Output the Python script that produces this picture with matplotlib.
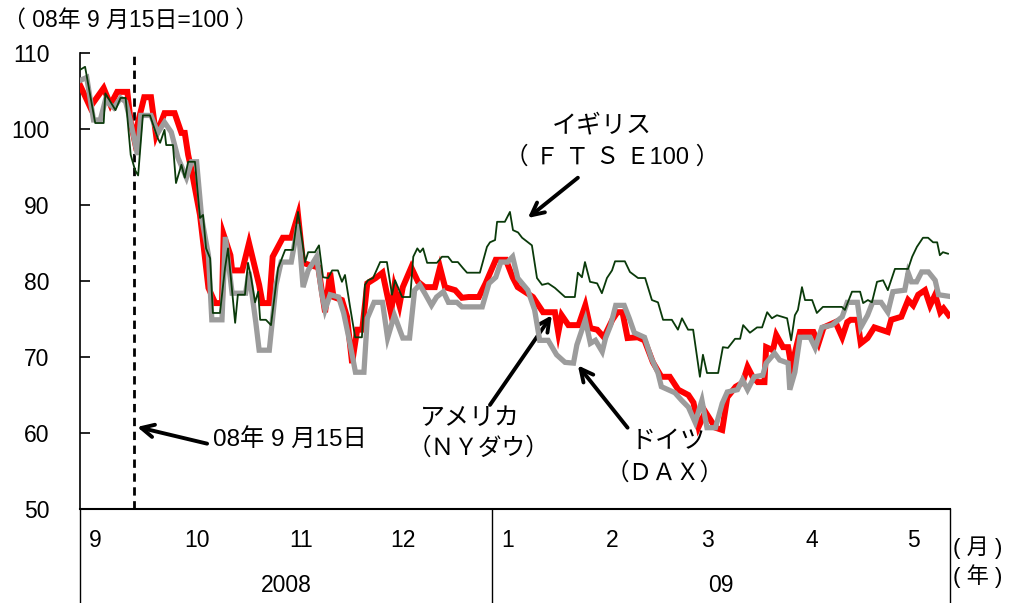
import matplotlib
matplotlib.use("Agg")
import matplotlib.pyplot as plt
import matplotlib.transforms as mtransforms

plt.rcParams['font.family'] = ['Liberation Sans', 'Noto Sans CJK JP', 'DejaVu Sans']

# x = days since 2008-09-01, y = index (2008-09-15 = 100)
us_day = [0, 3, 7, 9, 11, 14, 15, 16, 19, 21, 22.5, 25, 28, 30, 31, 32, 33, 35.5, 38, 40, 42, 42.5,
          44.5, 45, 48, 50, 53, 54, 56, 57, 60, 62.5, 64.5, 66, 68, 70.5, 72.5, 74, 75, 77.5, 79,
          80.5, 82, 83.5, 85, 87.5, 89.5, 92, 93, 94.5, 95.5, 98, 100, 102, 105, 106.5, 108, 111,
          113, 115, 118, 120, 123, 126, 128, 129.5, 134, 137, 140.5, 141.5, 142.5, 144.5, 147.5,
          149.5, 151, 153, 155, 157.5, 159, 160.5, 162, 165, 167, 169.5, 172, 174.5, 177, 180,
          181.5, 183, 185, 188, 190, 191.5, 194, 196, 197.5, 199, 200.5, 202.5, 203, 205, 206,
          208, 209.5, 210.5, 213, 217, 218.5, 220, 223.5, 225.5, 227, 228, 230, 231, 233, 235,
          239, 240, 243, 245, 246.5, 248, 250, 251.5, 253, 254.5, 255.5, 257]
us_val = [105.8, 102.9, 105.4, 103.2, 104.9, 104.9, 100.9, 98.8, 104.2, 104.2, 99.2, 102.1, 102.1,
          99.5, 99.5, 96.6, 94.6, 88.7, 79.1, 77.1, 77.1, 86.1, 83.4, 81.4, 81.4, 85.0, 79.5, 77.1,
          77.1, 83.2, 85.7, 85.7, 88.7, 82.4, 82.1, 81.8, 75.9, 81.1, 77.9, 77.5, 75.3, 69.2, 73.6,
          73.6, 79.7, 80.4, 81.1, 75.8, 79.2, 76.8, 79.2, 81.8, 79.9, 79.2, 79.2, 81.8, 79.2, 78.8,
          77.8, 77.9, 77.9, 79.7, 82.8, 82.8, 80.5, 79.2, 77.9, 75.9, 75.9, 73.2, 75.5, 74.2, 74.2,
          76.8, 73.8, 73.6, 72.6, 74.9, 75.9, 75.9, 72.5, 72.6, 72.2, 69.3, 67.4, 67.4, 65.7, 65.0,
          64.0, 60.8, 62.8, 60.7, 60.4, 64.7, 66.1, 66.6, 68.7, 67.4, 66.7, 66.7, 71.3, 70.9, 72.9,
          71.3, 71.3, 68.7, 73.3, 73.3, 71.8, 73.9, 74.6, 72.6, 74.6, 74.9, 74.9, 71.8, 72.5, 73.9,
          73.3, 74.9, 75.3, 77.5, 76.8, 78.2, 78.8, 76.8, 78.2, 75.9, 76.4, 75.5]

de_day = [0, 2, 4, 6, 7.5, 10, 12, 13.5, 15, 17, 18, 21, 23, 25, 27, 29, 31.5, 33, 34.5, 36, 38,
          39, 42, 43, 45, 49, 50, 52, 53, 56, 58, 59.5, 62.5, 64.5, 66, 67.5, 70, 71.5, 72.5, 74,
          76.5, 78, 79.5, 81.5, 84, 85, 87, 89.5, 91, 93, 95.5, 97.5, 99, 100.5, 102, 104, 105.5,
          107.5, 109, 111.5, 113, 119, 121, 123, 124.5, 126.5, 128, 129.5, 132.5, 134.5, 136,
          138.5, 141, 143.5, 146, 147, 149.5, 151, 152.5, 154.5, 155.5, 157, 158.5, 161, 162.5,
          164, 167, 169, 171, 172, 174, 176, 178, 180, 182, 184, 185.5, 188, 190, 191.5, 194.5,
          196, 197.5, 199.5, 202, 203, 205.5, 207, 209.5, 210, 211.5, 213, 216, 217.5, 219.5,
          222.5, 225.5, 227, 230, 231, 233, 234.5, 237, 239, 240.5, 244, 245, 246, 247.5, 249,
          251, 253, 254, 257]
de_val = [106.4, 106.8, 101.2, 101.2, 103.8, 102.8, 104.1, 103.6, 100.9, 96.6, 101.8, 101.8, 99.5,
          100.9, 99.6, 96.2, 93.6, 95.7, 95.7, 88.3, 83.4, 74.9, 74.9, 85.8, 78.4, 78.4, 81.2,
          74.6, 70.9, 70.9, 79.5, 82.5, 82.5, 87.5, 79.2, 81.4, 83.2, 78.4, 76.2, 78.2, 77.9, 75.8,
          72.6, 68.0, 68.0, 75.1, 77.2, 77.2, 72.5, 75.5, 72.5, 72.5, 78.8, 79.5, 78.4, 76.8, 77.9,
          78.6, 77.2, 77.2, 76.6, 76.6, 79.7, 80.5, 82.5, 82.5, 83.2, 80.4, 78.8, 76.2, 72.2, 72.2,
          70.3, 69.3, 69.2, 71.6, 74.9, 71.8, 72.2, 70.7, 72.5, 74.2, 76.8, 76.8, 75.1, 73.2, 72.6,
          69.9, 67.9, 66.1, 65.7, 65.3, 64.3, 63.4, 61.4, 64.3, 60.7, 60.7, 63.9, 65.4, 65.7, 67.0,
          65.7, 67.4, 67.6, 69.2, 70.5, 69.6, 69.2, 65.7, 68.0, 72.6, 72.6, 71.2, 73.9, 74.2, 75.3,
          77.2, 77.2, 73.9, 75.5, 77.2, 77.2, 75.9, 78.6, 78.8, 81.1, 79.9, 79.9, 81.2, 81.2, 80.1,
          78.2, 78.0]

uk_day = [0, 1.5, 4.5, 7, 7.5, 10.5, 12, 13.5, 15, 16.3, 17.2, 18.6, 20.7, 23, 23.7, 25, 25.5,
          27.5, 28.4, 30, 31, 32, 34, 35.5, 36.4, 37.3, 38.5, 39.3, 41.4, 42.9, 43.8, 45.9, 46.7,
          48.8, 49.7, 50.6, 51.8, 52.7, 53.3, 55, 56.5, 58.6, 60.7, 63, 64.5, 65.7, 66.6, 67.5,
          69.5, 70.7, 71.9, 73.4, 74.6, 76.3, 77.5, 78.4, 79.9, 81.4, 83.4, 84.3, 85.2, 86.7, 88.8,
          90.8, 92.3, 93.2, 95.3, 97.7, 98.6, 99.8, 100.6, 101.5, 102.7, 105.6, 107.1, 108.9,
          110.1, 111.8, 113.3, 114.5, 118.3, 120.4, 121.3, 122.8, 123.4, 125.7, 127.2, 128.1,
          129.6, 130.8, 133.7, 135.2, 136.7, 138.5, 140.5, 143.5, 146.4, 147.3, 148.5, 149.4,
          150.9, 153, 154.4, 155.9, 157.4, 158.3, 161.2, 162.7, 165.1, 167.2, 169.2, 171, 172.5,
          175.1, 176.9, 178.1, 179.9, 181.4, 183.4, 184.3, 185.5, 188.8, 190.2, 191.7, 193.8,
          195.3, 196.2, 198.2, 200.3, 201.8, 203.3, 204.7, 206.2, 209.2, 210.4, 211.5, 212.4,
          213.6, 214.5, 216.6, 218, 219.8, 225.4, 226.3, 228.4, 230.8, 231.7, 233.1, 234.3, 235.8,
          237.6, 239, 241.1, 245, 246.2, 247.6, 249.4, 250.9, 252.4, 253.6, 254.4, 255.3, 256.8]
uk_val = [107.8, 108.2, 100.8, 100.8, 104.7, 102.5, 104.1, 104.1, 96.6, 94.6, 93.9, 101.8, 101.8,
          98.8, 98.2, 99.9, 97.9, 97.9, 92.9, 95.3, 93.6, 95.7, 95.7, 88.3, 88.7, 84.3, 83.0, 75.8,
          75.8, 81.7, 84.3, 74.5, 78.2, 78.2, 82.4, 80.5, 77.2, 78.6, 74.9, 74.9, 74.2, 81.7, 84.1,
          84.1, 89.1, 85.4, 82.5, 83.8, 83.8, 84.7, 80.5, 80.4, 81.4, 81.4, 79.9, 80.8, 76.6, 72.6,
          72.6, 79.5, 80.1, 80.4, 82.5, 82.5, 78.2, 80.1, 77.9, 77.9, 83.2, 84.3, 83.8, 84.3, 82.4,
          82.4, 83.2, 83.2, 82.5, 82.5, 81.7, 81.1, 81.1, 84.5, 85.1, 85.4, 87.8, 87.8, 89.1, 86.7,
          86.4, 85.7, 84.7, 80.4, 79.5, 79.7, 79.1, 77.9, 77.9, 81.1, 80.5, 82.5, 79.9, 79.7, 78.4,
          80.4, 81.4, 82.6, 82.6, 81.2, 80.4, 80.4, 77.5, 77.2, 74.9, 74.9, 73.6, 75.1, 73.6, 73.6,
          67.4, 70.3, 67.9, 67.9, 71.3, 71.2, 72.4, 72.4, 74.2, 73.2, 73.9, 73.9, 75.9, 75.1, 75.5,
          75.1, 72.2, 75.5, 76.2, 79.2, 77.5, 77.5, 75.8, 76.6, 76.6, 76.2, 78.6, 78.6, 77.1, 77.5,
          77.2, 79.9, 80.1, 78.8, 81.6, 81.6, 83.2, 84.5, 85.7, 85.7, 85.1, 85.1, 83.4, 83.8, 83.6]

month_labels = ['9', '10', '11', '12', '1', '2', '3', '4', '5']
month_start = [0, 30, 61, 91, 122, 153, 181, 212, 242]
year_labels = ['2008', '09']
year_start = [0, 122]
last_day = 257.4
lehman_day = 16


def main():
    fig = plt.figure(figsize=(10.14, 6.03), dpi=100)
    ax = fig.add_axes([0.0789, 0.1559, 0.858, 0.756])

    ax.plot(us_day, us_val, color='#ff0000', lw=4.3, solid_joinstyle='miter', zorder=3)
    ax.plot(de_day, de_val, color='#9c9c9c', lw=3.8, solid_joinstyle='miter', zorder=4)
    ax.plot(uk_day, uk_val, color='#0a3a0a', lw=1.3, zorder=5)

    ax.axvline(lehman_day, color='black', lw=2, ls=(0, (3, 2)), zorder=2)

    ax.set_xlim(0, last_day)
    ax.set_ylim(50, 110)
    ax.set_yticks(range(50, 111, 10))
    ax.tick_params(axis='y', direction='in', length=7, width=1.2, pad=22, labelsize=16.5)
    ax.set_xticks([])
    for s in ['top', 'right']:
        ax.spines[s].set_visible(False)
    ax.spines['left'].set_linewidth(1.2)
    ax.spines['bottom'].set_linewidth(1.5)

    # month / year table below the axis
    trans = mtransforms.blended_transform_factory(ax.transData, ax.transAxes)
    for x in [0, year_start[1], last_day]:
        ax.plot([x, x], [0, -0.21], color='black', lw=1, transform=trans, clip_on=False)
    for lab, m in zip(month_labels, month_start):
        ax.text(m + 4.5, -0.07, lab, transform=trans, ha='center', va='center', fontsize=16.5)
    year_end = [year_start[1], last_day]
    for lab, a, b in zip(year_labels, year_start, year_end):
        ax.text((a + b) / 2, -0.167, lab, transform=trans, ha='center', va='center', fontsize=16.5)
    ax.text(1.004, -0.085, '( 月 )', transform=ax.transAxes, ha='left', va='center', fontsize=16)
    ax.text(1.004, -0.148, '( 年 )', transform=ax.transAxes, ha='left', va='center', fontsize=16)

    fig.text(0.003, 0.967, '（ 08年 9 月15日=100 ）', ha='left', va='center', fontsize=16.5)

    arrow = dict(arrowstyle='->,head_length=0.9,head_width=0.45', lw=2.8, color='black',
                 shrinkA=0, shrinkB=0)
    ax.text(154.5, 100.5, 'イギリス', ha='center', va='center', fontsize=18)
    ax.text(157.4, 96.3, '（ Ｆ Ｔ Ｓ Ｅ100 ）', ha='center', va='center', fontsize=17)
    ax.annotate('', xy=(132.5, 88.3), xytext=(147.3, 93.6), arrowprops=arrow)

    ax.text(115.4, 62.0, 'アメリカ', ha='center', va='center', fontsize=18)
    ax.text(117.8, 58.0, '（ＮＹダウ）', ha='center', va='center', fontsize=17)
    ax.annotate('', xy=(139.6, 75.5), xytext=(121.3, 63.7), arrowprops=arrow)

    ax.text(174, 59.0, 'ドイツ', ha='center', va='center', fontsize=18)
    ax.text(173, 54.7, '（ＤＡＸ）', ha='center', va='center', fontsize=17)
    ax.annotate('', xy=(147.3, 68.9), xytext=(162, 60.7), arrowprops=arrow)

    ax.text(62, 59.0, '08年 9 月15日', ha='center', va='center', fontsize=17.5)
    ax.annotate('', xy=(16.9, 60.8), xytext=(37.6, 58.6), arrowprops=arrow)

    fig.savefig('out.png', dpi=100)


if __name__ == "__main__":
    main()
